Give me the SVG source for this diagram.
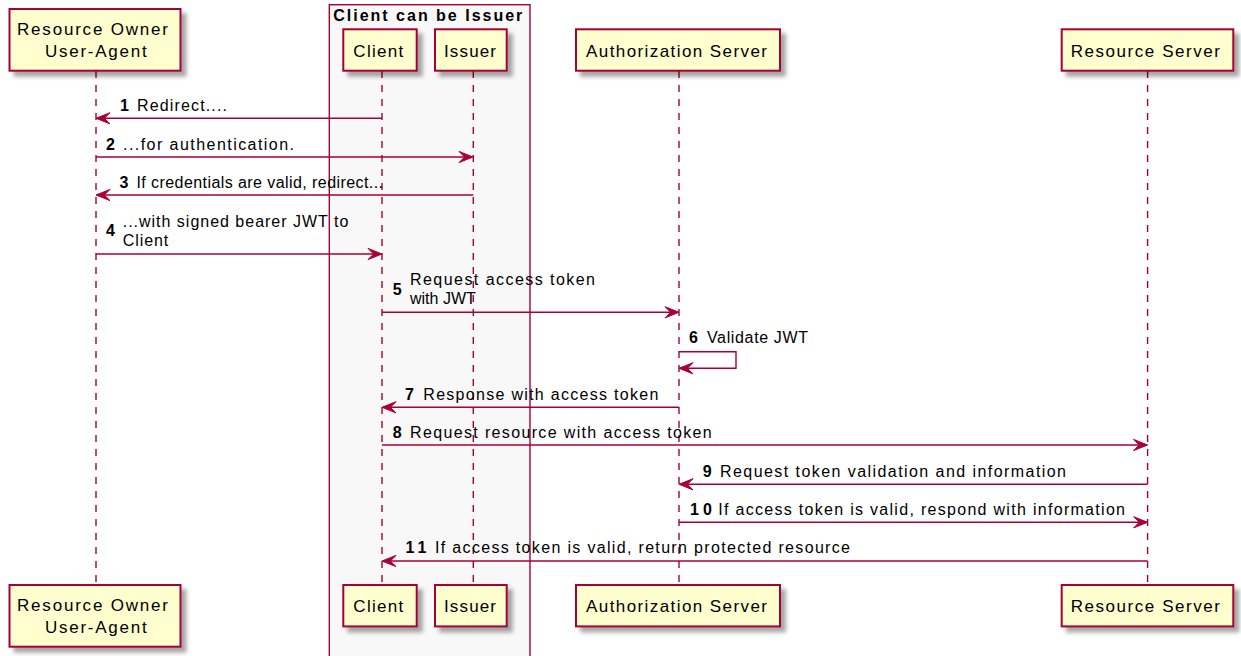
<svg xmlns="http://www.w3.org/2000/svg" width="1241" height="656" viewBox="0 0 1241 656">
  <style>
    .part { fill: #FEFECE; stroke: #A80036; stroke-width: 2; filter: url(#shadow); }
    .ptxt { font-family: "Liberation Sans", Arial, sans-serif; font-size: 17px; fill: #000; }
    .life { stroke: #A80036; stroke-width: 1.4; stroke-dasharray: 7 7; fill: none; }
    .msg { stroke: #A80036; stroke-width: 1.4; fill: none; }
    .head { fill: #A80036; stroke: #A80036; stroke-width: 1; }
    .num { font-family: "Liberation Sans", Arial, sans-serif; font-size: 16px; font-weight: bold; fill: #000; }
    .mtxt { font-family: "Liberation Sans", Arial, sans-serif; font-size: 16px; fill: #000; }
    .boxtitle { font-family: "Liberation Sans", Arial, sans-serif; font-size: 16px; font-weight: bold; fill: #000; }
  </style>
  <defs>
    <filter id="shadow" x="-20%" y="-20%" width="150%" height="160%">
      <feGaussianBlur in="SourceAlpha" stdDeviation="2.2"/>
      <feOffset dx="5" dy="5" result="off"/>
      <feComponentTransfer><feFuncA type="linear" slope="0.35"/></feComponentTransfer>
      <feMerge><feMergeNode/><feMergeNode in="SourceGraphic"/></feMerge>
    </filter>
    <!-- arrowheads pointing left / right, tip at origin -->
    <polygon id="headL" points="0,0 14,-5.6 8.4,0 14,5.6" class="head"/>
    <polygon id="headR" points="0,0 -14,-5.6 -8.4,0 -14,5.6" class="head"/>
  </defs>

  <!-- grouping box: Client can be Issuer -->
  <g id="box-client-issuer">
    <rect x="329.3" y="4.7" width="200.7" height="670" fill="#F8F8F8" stroke="#A80036" stroke-width="1.4"/>
    <text class="boxtitle" x="333.3" y="20.5" textLength="189" lengthAdjust="spacing">Client can be Issuer</text>
  </g>

  <!-- lifelines -->
  <g id="lifelines">
    <line class="life" x1="96" y1="71" x2="96" y2="585"/>
    <line class="life" x1="382" y1="71" x2="382" y2="585"/>
    <line class="life" x1="473.3" y1="71" x2="473.3" y2="585"/>
    <line class="life" x1="679" y1="71" x2="679" y2="585"/>
    <line class="life" x1="1147.6" y1="71" x2="1147.6" y2="585"/>
  </g>

  <!-- participants (top) -->
  <g id="owner-top">
    <rect class="part" x="9.5" y="9" width="171" height="61.7"/>
    <text class="ptxt" x="17" y="35" textLength="151" lengthAdjust="spacing">Resource Owner</text>
    <text class="ptxt" x="45" y="56.7" textLength="101.7" lengthAdjust="spacing">User-Agent</text>
  </g>
  <g id="client-top">
    <rect class="part" x="343.3" y="29.3" width="73.4" height="41.4"/>
    <text class="ptxt" x="353.3" y="56.7" textLength="50" lengthAdjust="spacing">Client</text>
  </g>
  <g id="issuer-top">
    <rect class="part" x="435" y="29.3" width="71.7" height="41.4"/>
    <text class="ptxt" x="444" y="56.7" textLength="52" lengthAdjust="spacing">Issuer</text>
  </g>
  <g id="authserver-top">
    <rect class="part" x="576" y="29.3" width="204" height="41.4"/>
    <text class="ptxt" x="586" y="56.7" textLength="181" lengthAdjust="spacing">Authorization Server</text>
  </g>
  <g id="resserver-top">
    <rect class="part" x="1061.7" y="29.3" width="171.6" height="41.4"/>
    <text class="ptxt" x="1070.7" y="56.7" textLength="149.3" lengthAdjust="spacing">Resource Server</text>
  </g>

  <!-- participants (bottom) -->
  <g id="owner-bottom">
    <rect class="part" x="9.5" y="585" width="171" height="61.7"/>
    <text class="ptxt" x="17" y="611" textLength="151" lengthAdjust="spacing">Resource Owner</text>
    <text class="ptxt" x="45" y="632.7" textLength="101.7" lengthAdjust="spacing">User-Agent</text>
  </g>
  <g id="client-bottom">
    <rect class="part" x="343.3" y="585" width="73.4" height="41.4"/>
    <text class="ptxt" x="353.3" y="612.4" textLength="50" lengthAdjust="spacing">Client</text>
  </g>
  <g id="issuer-bottom">
    <rect class="part" x="435" y="585" width="71.7" height="41.4"/>
    <text class="ptxt" x="444" y="612.4" textLength="52" lengthAdjust="spacing">Issuer</text>
  </g>
  <g id="authserver-bottom">
    <rect class="part" x="576" y="585" width="204" height="41.4"/>
    <text class="ptxt" x="586" y="612.4" textLength="181" lengthAdjust="spacing">Authorization Server</text>
  </g>
  <g id="resserver-bottom">
    <rect class="part" x="1061.7" y="585" width="171.6" height="41.4"/>
    <text class="ptxt" x="1070.7" y="612.4" textLength="149.3" lengthAdjust="spacing">Resource Server</text>
  </g>

  <!-- messages -->
  <g id="connectors">
    <!-- 1 -->
    <line class="msg" x1="382" y1="118.3" x2="97" y2="118.3"/>
    <use href="#headL" x="96" y="118.3"/>
    <text class="num" x="120" y="111">1</text>
    <text class="mtxt" x="137" y="111" textLength="90" lengthAdjust="spacing">Redirect....</text>
    <!-- 2 -->
    <line class="msg" x1="96" y1="157" x2="472" y2="157"/>
    <use href="#headR" x="473" y="157"/>
    <text class="num" x="106" y="150">2</text>
    <text class="mtxt" x="123" y="150" textLength="171" lengthAdjust="spacing">...for authentication.</text>
    <!-- 3 -->
    <line class="msg" x1="473.3" y1="195" x2="97" y2="195"/>
    <use href="#headL" x="96" y="195"/>
    <text class="num" x="119.5" y="188">3</text>
    <text class="mtxt" x="136.5" y="188" textLength="246.5" lengthAdjust="spacing">If credentials are valid, redirect...</text>
    <!-- 4 -->
    <line class="msg" x1="96" y1="254" x2="381" y2="254"/>
    <use href="#headR" x="382" y="254"/>
    <text class="num" x="106" y="236">4</text>
    <text class="mtxt" x="122.7" y="226.7" textLength="225.6" lengthAdjust="spacing">...with signed bearer JWT to</text>
    <text class="mtxt" x="122.7" y="246" textLength="45.6" lengthAdjust="spacing">Client</text>
    <!-- 5 -->
    <line class="msg" x1="382" y1="312.3" x2="678" y2="312.3"/>
    <use href="#headR" x="679" y="312.3"/>
    <text class="num" x="392.7" y="295">5</text>
    <text class="mtxt" x="410" y="285" textLength="185" lengthAdjust="spacing">Request access token</text>
    <text class="mtxt" x="410" y="304">with JWT</text>
    <!-- 6 (self message) -->
    <polyline class="msg" points="679,351.7 736,351.7 736,368.3 680,368.3"/>
    <use href="#headL" x="679" y="368.3"/>
    <text class="num" x="689" y="343">6</text>
    <text class="mtxt" x="707" y="343" textLength="101" lengthAdjust="spacing">Validate JWT</text>
    <!-- 7 -->
    <line class="msg" x1="679" y1="407.3" x2="383" y2="407.3"/>
    <use href="#headL" x="382" y="407.3"/>
    <text class="num" x="405" y="400">7</text>
    <text class="mtxt" x="423.3" y="400" textLength="235" lengthAdjust="spacing">Response with access token</text>
    <!-- 8 -->
    <line class="msg" x1="382" y1="445" x2="1146.6" y2="445"/>
    <use href="#headR" x="1147.6" y="445"/>
    <text class="num" x="392.7" y="438.3">8</text>
    <text class="mtxt" x="410" y="438.3" textLength="301.7" lengthAdjust="spacing">Request resource with access token</text>
    <!-- 9 -->
    <line class="msg" x1="1147.6" y1="484.3" x2="680" y2="484.3"/>
    <use href="#headL" x="679" y="484.3"/>
    <text class="num" x="702.7" y="476.7">9</text>
    <text class="mtxt" x="720" y="476.7" textLength="346" lengthAdjust="spacing">Request token validation and information</text>
    <!-- 10 -->
    <line class="msg" x1="679" y1="522.3" x2="1146.6" y2="522.3"/>
    <use href="#headR" x="1147.6" y="522.3"/>
    <text class="num" x="690" y="515" textLength="22" lengthAdjust="spacing">10</text>
    <text class="mtxt" x="718.3" y="515" textLength="406.7" lengthAdjust="spacing">If access token is valid, respond with information</text>
    <!-- 11 -->
    <line class="msg" x1="1147.6" y1="561" x2="383" y2="561"/>
    <use href="#headL" x="382" y="561"/>
    <text class="num" x="405.4" y="553" textLength="21" lengthAdjust="spacing">11</text>
    <text class="mtxt" x="435" y="553" textLength="415" lengthAdjust="spacing">If access token is valid, return protected resource</text>
  </g>
</svg>
